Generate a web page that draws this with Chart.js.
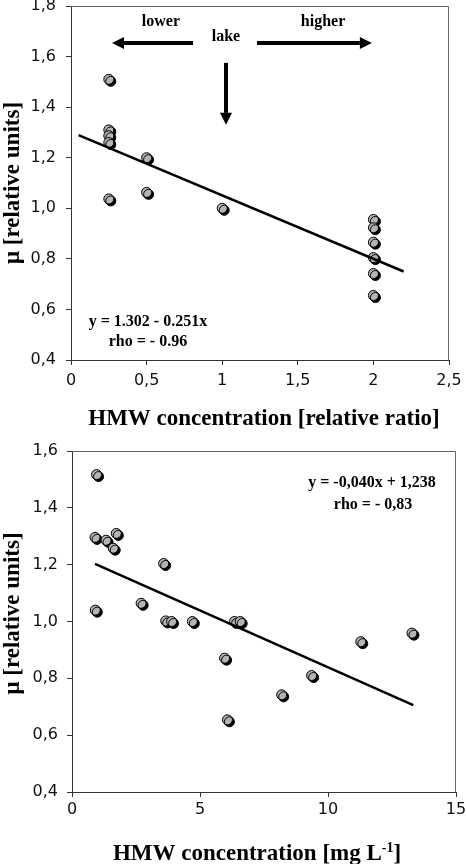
<!DOCTYPE html>
<html><head><meta charset="utf-8">
<script src="https://cdn.jsdelivr.net/npm/chart.js@4.4.1/dist/chart.umd.min.js"></script>
<style>
html,body{margin:0;padding:0;background:#fff;}
#w{position:relative;width:466px;height:864px;overflow:hidden;}
.c{position:absolute;left:0;}
</style></head><body>
<div id="w">
<div class="c" style="top:0;width:466px;height:430px"><canvas id="c1"></canvas></div>
<div class="c" style="top:430px;width:466px;height:434px"><canvas id="c2"></canvas></div>
</div>
<script>
// ---------- top panel: HMW relative ratio ----------
const ratioX  = [0.25, 0.25, 0.25, 0.25, 0.25, 0.5, 0.5, 1.0, 2.0, 2.0, 2.0, 2.0, 2.0, 2.0];
const ratioMu = [1.510, 1.310, 1.287, 1.260, 1.037, 1.200, 1.063, 1.000, 0.956, 0.923, 0.866, 0.805, 0.742, 0.655];
const ratioFitX = [0.05, 2.2];
const ratioFitY = [1.289, 0.750];
const ratioTickX = ['0', '0,5', '1', '1,5', '2', '2,5'];
const ratioTickY = ['0,4', '0,6', '0,8', '1,0', '1,2', '1,4', '1,6', '1,8'];
const ratioNotes = ['y = 1.302 - 0.251x', 'rho = - 0.96'];
const ratioNoteX = [0.509, 0.509];
const ratioNoteY = [0.550, 0.471];
const lakeLabels = ['lower', 'lake', 'higher'];
const lakeLabelX = [0.595, 1.025, 1.667];
const lakeLabelY = [1.737, 1.677, 1.737];
const arrowFromX = [0.807, 1.230, 1.025];
const arrowFromY = [1.654, 1.654, 1.575];
const arrowToX   = [0.271, 1.990, 1.025];
const arrowToY   = [1.654, 1.654, 1.330];

// ---------- bottom panel: HMW concentration ----------
const concX  = [0.96, 0.90, 1.33, 1.73, 1.61, 3.58, 0.91, 2.70, 3.66, 3.89, 4.70, 6.35, 6.57, 5.96, 6.07, 8.19, 9.36, 11.28, 13.28];
const concMu = [1.517, 1.296, 1.286, 1.310, 1.258, 1.204, 1.040, 1.064, 1.002, 1.000, 1.000, 1.000, 1.000, 0.871, 0.654, 0.742, 0.810, 0.929, 0.959];
const concFitX = [0.9, 13.33];
const concFitY = [1.203, 0.706];
const concTickX = ['0', '5', '10', '15'];
const concTickY = ['0,4', '0,6', '0,8', '1,0', '1,2', '1,4', '1,6'];
const concNotes = ['y = -0,040x + 1,238', 'rho = - 0,83'];
const concNoteX = [11.72, 11.76];
const concNoteY = [1.487, 1.409];

const SERIF = "'Liberation Serif', 'Times New Roman', serif";
const SANS = "'DejaVu Sans', Verdana, sans-serif";
const Y_TITLE = 'μ [relative units]';

const shadowPlugin = {
  id: 'pshadow',
  beforeDatasetDraw(chart, args) {
    if (chart.data.datasets[args.index].dropShadow) {
      const ctx = chart.ctx;
      ctx.save();
      ctx.shadowColor = '#000';
      ctx.shadowOffsetX = 2;
      ctx.shadowOffsetY = 2;
      ctx.shadowBlur = 0;
    }
  },
  afterDatasetDraw(chart, args) {
    if (chart.data.datasets[args.index].dropShadow) chart.ctx.restore();
  }
};

const framePlugin = {
  id: 'frame',
  beforeDatasetsDraw(chart) {
    const {ctx, chartArea: a} = chart;
    ctx.save();
    ctx.strokeStyle = '#666';
    ctx.lineWidth = 1;
    ctx.beginPath();
    ctx.moveTo(a.left, Math.round(a.top) + 0.5);
    ctx.lineTo(Math.round(a.right) - 0.5, Math.round(a.top) + 0.5);
    ctx.lineTo(Math.round(a.right) - 0.5, a.bottom);
    ctx.stroke();
    ctx.restore();
  }
};

const notesPlugin = {
  id: 'notes',
  afterDatasetsDraw(chart, args, opts) {
    const ctx = chart.ctx, xs = chart.scales.x, ys = chart.scales.y;
    const a = chart.chartArea;
    ctx.save();
    ctx.fillStyle = '#000';
    ctx.textAlign = 'center';
    ctx.textBaseline = 'middle';
    ctx.font = 'bold 16px ' + SERIF;
    (opts.texts || []).forEach((t, i) => {
      ctx.fillText(t, xs.getPixelForValue(opts.tx[i]), ys.getPixelForValue(opts.ty[i]));
    });
    (opts.fromX || []).forEach((fx, i) => {
      const x0 = xs.getPixelForValue(fx), y0 = ys.getPixelForValue(opts.fromY[i]);
      const x1 = xs.getPixelForValue(opts.toX[i]), y1 = ys.getPixelForValue(opts.toY[i]);
      const ang = Math.atan2(y1 - y0, x1 - x0);
      const head = 12, half = 6;
      const bx = x1 - head * Math.cos(ang), by = y1 - head * Math.sin(ang);
      ctx.strokeStyle = '#000';
      ctx.lineWidth = 4;
      ctx.beginPath(); ctx.moveTo(x0, y0); ctx.lineTo(bx, by); ctx.stroke();
      ctx.beginPath();
      ctx.moveTo(x1, y1);
      ctx.lineTo(bx + half * Math.sin(ang), by - half * Math.cos(ang));
      ctx.lineTo(bx - half * Math.sin(ang), by + half * Math.cos(ang));
      ctx.closePath();
      ctx.fill();
    });
    const big = 'bold 23px ' + SERIF, small = 'bold 14px ' + SERIF;
    if (opts.xTitle) {
      const cx = (a.left + a.right) / 2 + opts.xTitle.dx;
      const base = opts.xTitle.base;
      const parts = [[opts.xTitle.main, big, 0], [opts.xTitle.sup, small, -8], [opts.xTitle.end, big, 0]];
      let w = 0;
      parts.forEach(p => { ctx.font = p[1]; w += ctx.measureText(p[0]).width; });
      let x = cx - w / 2;
      ctx.textAlign = 'left';
      ctx.textBaseline = 'alphabetic';
      parts.forEach(p => {
        if (!p[0]) return;
        ctx.font = p[1];
        ctx.fillText(p[0], x, base + p[2]);
        x += ctx.measureText(p[0]).width;
      });
    }
    if (opts.yTitle) {
      ctx.save();
      ctx.translate(opts.yTitle.x, (a.top + a.bottom) / 2 + opts.yTitle.dy);
      ctx.rotate(-Math.PI / 2);
      ctx.font = big;
      ctx.textAlign = 'center';
      ctx.textBaseline = 'middle';
      ctx.fillText(opts.yTitle.text, 0, 0);
      ctx.restore();
    }
    ctx.restore();
  }
};

function pts(xs, ys) { return xs.map((x, i) => ({x: x, y: ys[i]})); }

function build(id, o) {
  return new Chart(document.getElementById(id), {
    data: {
      datasets: [
        { type: 'line', data: pts(o.fitX, o.fitY), borderColor: '#000', borderWidth: 2.5,
          pointRadius: 0, fill: false, tension: 0 },
        { type: 'scatter', data: pts(o.x, o.y), dropShadow: true, pointRadius: 5,
          pointHoverRadius: 5, pointBackgroundColor: '#b4b4b4', pointBorderColor: '#000',
          pointBorderWidth: 1, clip: false }
      ]
    },
    options: {
      responsive: true, maintainAspectRatio: false, animation: false,
      layout: { padding: o.pad },
      plugins: { legend: { display: false }, tooltip: { enabled: false }, notes: o.notes },
      scales: {
        x: {
          type: 'linear', min: o.xmin, max: o.xmax,
          ticks: { stepSize: o.xstep, color: '#111', font: { family: SANS, size: 16 }, padding: o.xpad,
                   maxRotation: 0, callback: (v, i) => o.tickX[i] },
          grid: { drawOnChartArea: false, drawTicks: true, tickLength: 5, color: '#333' },
          border: { color: '#333', width: 1 },
          title: { display: false },
          afterFit(s) { s.height = o.xh; s.paddingLeft = 0; s.paddingRight = 0; }
        },
        y: {
          type: 'linear', min: o.ymin, max: o.ymax,
          ticks: { stepSize: 0.2, color: '#111', font: { family: SANS, size: 16 }, padding: o.ypad,
                   callback: (v, i) => o.tickY[i] },
          grid: { drawOnChartArea: false, drawTicks: true, tickLength: 5, color: '#333' },
          border: { color: '#333', width: 1 },
          title: { display: false },
          afterFit(s) { s.width = o.yw; s.paddingTop = 0; s.paddingBottom = 0; }
        }
      }
    },
    plugins: [shadowPlugin, framePlugin, notesPlugin]
  });
}

build('c1', {
  x: ratioX, y: ratioMu, fitX: ratioFitX, fitY: ratioFitY,
  xmin: 0, xmax: 2.5, xstep: 0.5, ymin: 0.4, ymax: 1.8,
  tickX: ratioTickX, tickY: ratioTickY,
  pad: { top: 6, right: 17, left: 0, bottom: 0 }, xh: 70, yw: 71, xpad: 6, ypad: 10,
  notes: { texts: ratioNotes.concat(lakeLabels), tx: ratioNoteX.concat(lakeLabelX), ty: ratioNoteY.concat(lakeLabelY),
           fromX: arrowFromX, fromY: arrowFromY, toX: arrowToX, toY: arrowToY,
           xTitle: { main: 'HMW concentration [relative ratio]', sup: '', end: '', dx: 4, base: 425 },
           yTitle: { text: Y_TITLE, x: 13, dy: 0 } }
});

build('c2', {
  x: concX, y: concMu, fitX: concFitX, fitY: concFitY,
  xmin: 0, xmax: 15, xstep: 5, ymin: 0.4, ymax: 1.6,
  tickX: concTickX, tickY: concTickY,
  pad: { top: 21, right: 10, left: 0, bottom: 0 }, xh: 72, yw: 72, xpad: 3, ypad: 9,
  notes: { texts: concNotes, tx: concNoteX, ty: concNoteY,
           xTitle: { main: 'HMW concentration [mg L', sup: '-1', end: ']', dx: -7, base: 430 },
           yTitle: { text: Y_TITLE, x: 13, dy: -8 } }
});
</script>
</body></html>
